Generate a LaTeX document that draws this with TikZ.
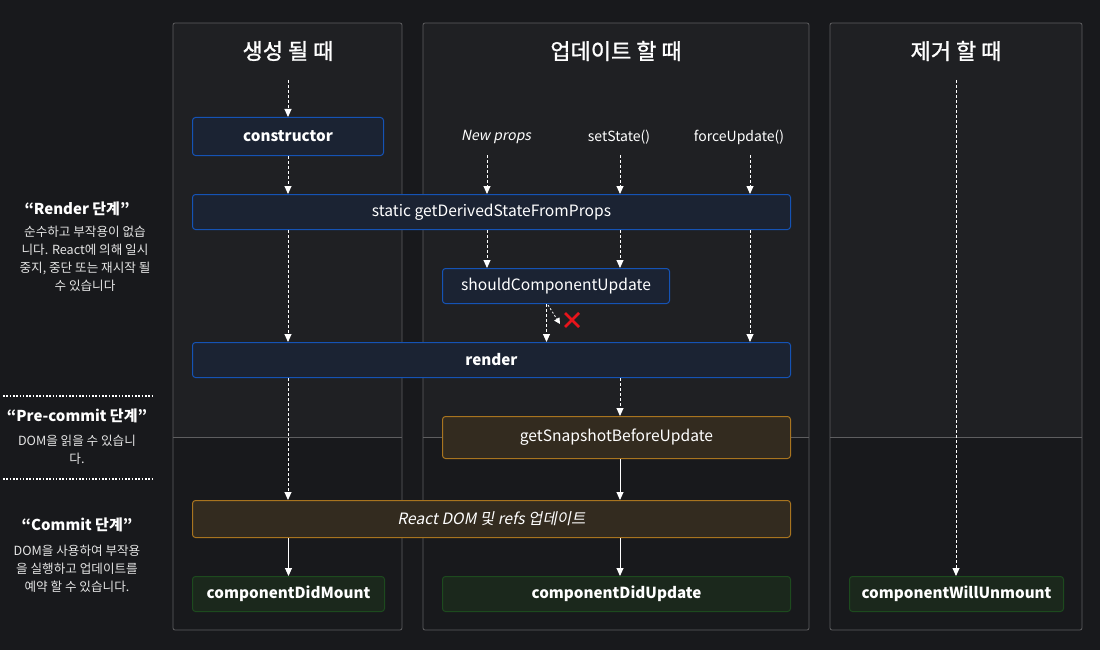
\documentclass[tikz,border=0pt]{standalone}
\usepackage{fontspec}
\setmainfont{Noto Sans CJK KR}
\newfontfamily\itf{Noto Sans CJK KR}[FakeSlant=0.2]
\newfontfamily\medf{Noto Sans CJK KR}[FakeBold=1.2]
\usetikzlibrary{arrows.meta,calc}
\definecolor{bgdark}{HTML}{18191C}
\definecolor{panelup}{HTML}{1F2023}
\definecolor{panelline}{HTML}{5E5E60}
\definecolor{bluebd}{HTML}{1553B5}
\definecolor{bluefill}{HTML}{1B2333}
\definecolor{orbd}{HTML}{A8741F}
\definecolor{orfill}{HTML}{332B1F}
\definecolor{grbd}{HTML}{1D4A1E}
\definecolor{grfill}{HTML}{1B281C}
\definecolor{xred}{HTML}{E8141B}
\tikzset{
  box/.style={draw, line width=1pt, rounded corners=3pt, text=white, inner sep=0pt, anchor=north west},
  bluebox/.style={box, draw=bluebd, fill=bluefill},
  orbox/.style={box, draw=orbd, fill=orfill},
  grbox/.style={box, draw=grbd, fill=grfill},
  dar/.style={draw=white, line width=0.9pt, dash pattern=on 3pt off 2pt, -{Triangle[width=7pt,length=8pt]}},
  sar/.style={draw=white, line width=0.9pt, -{Triangle[width=7pt,length=8pt]}},
  ttl/.style={text=white, font=\medf\fontsize{22}{26}\selectfont},
  lbl/.style={text=white, font=\fontsize{14}{16}\selectfont},
  lh/.style={text=white, font=\bfseries\fontsize{15}{18}\selectfont},
  lp/.style={text=white!90!black, font=\fontsize{12.6}{18}\selectfont, align=center},
  panel/.style={draw=panelline, line width=0.8pt, rounded corners=2pt},
  rtx/.style={font=\fontsize{15.6}{18}\selectfont},
  btx/.style={font=\bfseries\fontsize{15.2}{18}\selectfont}
}
\begin{document}
\begin{tikzpicture}[x=1pt,y=-1pt]
\fill[bgdark] (0,0) rectangle (1100,650);
\useasboundingbox (0,0) rectangle (1100,650);
% panels
\foreach \a/\b in {173/402, 423/809, 830/1082}{
  \fill[panelup] (\a,23) rectangle (\b,437);
  \draw[panelline, line width=0.8pt] (\a,437) -- (\b,437);
  \draw[panel] (\a,23) rectangle (\b,630);
}
% titles
\node[ttl] (t1) at (288,51) {생성 될 때};
\node[ttl] (t2) at (616,51) {업데이트 할 때};
\node[ttl] (t3) at (956,51) {제거 할 때};
% nodes
\node[bluebox, minimum width=191pt, minimum height=38pt, btx] (ctor) at (192,117) {constructor};
\node[bluebox, minimum width=598pt, minimum height=35pt, rtx] (gdsfp) at (192,194) {static getDerivedStateFromProps};
\node[bluebox, minimum width=227pt, minimum height=35pt, rtx] (scu) at (442,268) {shouldComponentUpdate};
\node[bluebox, minimum width=598pt, minimum height=35pt, btx] (render) at (192,342) {render};
\node[orbox, minimum width=348pt, minimum height=42pt, rtx] (gsbu) at (442,416) {getSnapshotBeforeUpdate};
\node[orbox, minimum width=598pt, minimum height=37pt, font=\itf\fontsize{15.6}{18}\selectfont] (rdom) at (192,500) {React DOM 및 refs 업데이트};
\node[grbox, minimum width=192pt, minimum height=35pt, btx] (cdm) at (192,576) {componentDidMount};
\node[grbox, minimum width=348pt, minimum height=35pt, btx] (cdu) at (442,576) {componentDidUpdate};
\node[grbox, minimum width=214pt, minimum height=35pt, btx] (cwu) at (849,576) {componentWillUnmount};
% labels
\node[lbl, font=\itf\fontsize{14}{16}\selectfont] (np) at (496,137) {New props};
\node[lbl] (ss) at (619,137) {setState()};
\node[lbl] (fu) at (739,137) {forceUpdate()};
% coordinates
\coordinate (s1) at (288,80);
\coordinate (s3) at (956,80);
\coordinate (npb) at (487,155);
\coordinate (ssb) at (620,155);
\coordinate (fub) at (750,155);
% mount column
\draw[dar] (s1) -- (ctor.north);
\draw[dar] (ctor.south) -- (gdsfp.north -| ctor.south);
\draw[dar] (gdsfp.south -| ctor.south) -- (render.north -| ctor.south);
\draw[dar] (render.south -| ctor.south) -- (rdom.north -| ctor.south);
\draw[sar] (rdom.south -| cdm.north) -- (cdm.north);
% update column
\draw[dar] (npb) -- (gdsfp.north -| npb);
\draw[dar] (ssb) -- (gdsfp.north -| ssb);
\draw[dar] (fub) -- (gdsfp.north -| fub);
\draw[dar] (gdsfp.south -| npb) -- (scu.north -| npb);
\draw[dar] (gdsfp.south -| ssb) -- (scu.north -| ssb);
\draw[dar] (gdsfp.south -| fub) -- (render.north -| fub);
\coordinate (scux) at (546.5,303);
\draw[dar] (scu.south -| scux) -- (render.north -| scux);
\coordinate (xs) at (548,305);
\coordinate (xe) at (560,324);
\draw[draw=white, line width=0.8pt, dash pattern=on 2pt off 2pt, -{Triangle[width=6pt,length=6pt]}] (xs) -- (xe);
\coordinate (xc) at (572,320);
\draw[xred, line width=2.6pt] ($(xc)+(-7,-7)$) -- ($(xc)+(7,7)$) ($(xc)+(-7,7)$) -- ($(xc)+(7,-7)$);
\draw[dar] (render.south -| ssb) -- (gsbu.north -| ssb);
\draw[sar] (gsbu.south -| ssb) -- (rdom.north -| ssb);
\draw[sar] (rdom.south -| ssb) -- (cdu.north -| ssb);
% unmount
\draw[dar] (s3) -- (cwu.north -| s3);
% left side
\node[lh] (h1) at (77,209) {“Render 단계”};
\node[lp] (p1) at (85,259) {순수하고 부작용이 없습\\니다. React에 의해 일시\\중지, 중단 또는 재시작 될\\수 있습니다};
\coordinate (d1a) at (3,396);
\coordinate (d1b) at (153,396);
\draw[white, line width=1.6pt, dash pattern=on 1.6pt off 1.7pt] (d1a) -- (d1b);
\node[lh] (h2) at (77,416) {“Pre-commit 단계”};
\node[lp] (p2) at (77,450) {DOM을 읽을 수 있습니\\다.};
\coordinate (d2a) at (3,479);
\coordinate (d2b) at (153,479);
\draw[white, line width=1.6pt, dash pattern=on 1.6pt off 1.7pt] (d2a) -- (d2b);
\node[lh] (h3) at (77,525) {“Commit 단계”};
\node[lp] (p3) at (77,569) {DOM을 사용하여 부작용\\을 실행하고 업데이트를\\예약 할 수 있습니다.};
\end{tikzpicture}
\end{document}
